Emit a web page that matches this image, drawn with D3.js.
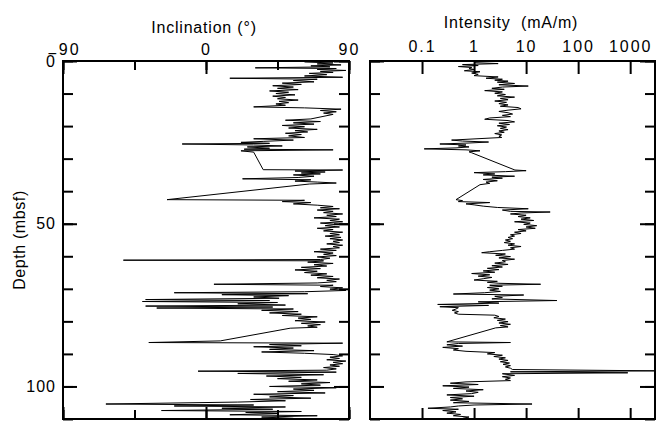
<!DOCTYPE html>
<html>
<head>
<meta charset="utf-8">
<script src="https://cdn.jsdelivr.net/npm/d3@7"></script>
<style>
body { margin: 0; background: #fff; }
text { font-family: "Liberation Sans", Arial, sans-serif; fill: #000; }
</style>
</head>
<body>
<div id="chart"></div>
<script>
// depth (mbsf), inclination (deg)
var incData = [
	[0.3,62],[0.6,80],[0.9,70],[1.2,85],[1.5,66],[1.8,78],[2.1,31],[2.3,82],[2.6,70],[2.9,88],[3.2,72],[3.5,80],
	[3.8,65],[4.2,76],[4.6,62],[5.0,86],[5.3,15],[5.6,70],[6.0,55],[6.4,68],[6.8,48],[7.2,60],[7.6,42],[8.0,55],
	[8.4,45],[8.8,58],[9.2,40],[9.6,52],[10.0,44],[10.4,56],[10.8,42],[11.2,50],[11.6,45],[12.0,58],[12.4,46],
	[12.8,52],[13.2,44],[13.6,50],[14.1,30],[14.4,62],[14.8,85],[15.2,72],[15.6,82],[16.0,74],[16.4,80],
	[17.8,66],[18.2,50],[18.6,72],[19.0,55],[19.4,68],[19.8,48],[20.2,62],[20.6,52],[21.0,70],[21.4,56],
	[21.8,64],[22.2,50],[22.6,60],[23.0,52],[23.5,62],[23.9,30],[24.3,55],[24.7,36],[25.0,22],[25.3,40],
	[25.5,-15],[25.8,30],[26.1,48],[26.4,26],[26.8,40],[27.1,24],[27.3,80],[27.6,22],[28.0,30],[33.4,36],
	[33.5,86],[33.8,56],[34.1,75],[34.4,60],[34.7,72],[35.0,55],[35.4,68],[35.8,58],[36.2,23],[36.5,66],
	[36.9,56],[37.2,70],[37.5,82],[37.8,65],[42.6,-24.5],[42.8,62],[43.2,48],[43.5,66],[43.9,55],[44.3,70],
	[44.7,80],[45.1,72],[45.4,84],[45.8,70],[46.2,80],[46.6,74],[47.0,86],[47.4,76],[47.8,82],[48.2,68],
	[48.6,84],[49.0,78],[49.4,86],[49.8,72],[50.2,82],[50.6,75],[51.0,84],[51.4,70],[51.8,80],[52.2,74],
	[52.6,86],[53.0,78],[53.4,84],[53.8,75],[54.2,85],[54.6,78],[55.0,86],[55.4,80],[55.8,84],[56.2,76],
	[56.6,86],[57.0,80],[57.4,84],[57.8,72],[58.2,82],[58.6,68],[59.0,80],[59.4,74],[59.8,82],[60.2,70],
	[60.6,78],[61.0,72],[61.2,-52],[61.4,74],[61.8,64],[62.2,80],[62.6,68],[63.0,76],[63.4,60],[63.8,72],
	[64.2,56],[64.6,70],[65.0,62],[65.4,76],[65.8,66],[66.2,80],[66.6,70],[67.0,84],[67.4,76],[67.8,82],
	[68.2,70],[68.6,5],[68.9,80],[69.3,72],[69.7,86],[70.1,78],[70.5,88],[70.9,62],[71.2,-20],[71.5,64],
	[71.8,10],[72.1,52],[72.5,30],[72.9,46],[73.3,-38],[73.6,40],[73.9,-40],[74.2,45],[74.6,20],[75.0,50],
	[75.3,-38],[75.6,42],[75.9,-31],[76.2,55],[76.6,35],[77.0,58],[77.4,40],[77.8,60],[78.2,48],[78.6,70],
	[79.0,58],[79.4,66],[79.8,56],[80.2,75],[80.6,60],[81.0,72],[81.4,64],[81.8,70],[82.1,53],[86.0,9],
	[86.5,-36],[86.7,86],[87.1,40],[87.5,60],[87.8,30],[88.2,55],[88.6,40],[89.0,68],[89.4,35],[89.8,62],
	[90.2,80],[90.6,86],[91.0,78],[91.4,84],[91.8,76],[92.2,88],[92.6,80],[93.0,86],[93.4,78],[93.8,84],
	[94.2,74],[94.6,82],[95.0,76],[95.3,-5],[95.6,82],[96.0,20],[96.4,74],[96.8,38],[97.2,60],[97.6,45],
	[98.0,70],[98.4,52],[98.8,78],[99.2,60],[99.6,72],[100.0,40],[100.4,82],[100.8,55],[101.2,68],[101.6,45],
	[102.0,75],[102.4,30],[102.8,55],[103.2,40],[103.6,66],[104.0,28],[104.4,50],[104.8,20],[105.4,-63],
	[105.7,30],[106.0,-20],[106.3,50],[106.7,10],[107.0,42],[107.4,-28],[107.7,60],[108.0,25],[108.3,45],
	[108.7,15],[109.0,70],[109.4,35],[109.8,55]
];

// depth (mbsf), intensity (mA/m)
var intData = [
	[0.5,1.0],[0.8,2.9],[1.1,0.6],[1.4,1.2],[1.7,0.5],[2.0,0.9],[2.3,0.8],[2.6,1.0],[3.0,0.65],[3.3,1.3],
	[3.7,0.9],[4.1,1.2],[4.5,1.0],[4.9,2.9],[5.3,1.7],[5.6,3.5],[5.9,2.5],[6.2,4.5],[6.5,2.8],[6.9,6],
	[7.3,3.0],[7.7,11],[8.0,3.5],[8.4,2.2],[8.7,3.8],[9.1,1.6],[9.5,3.5],[9.9,2.5],[10.3,4.0],[10.7,2.8],
	[11.1,6],[11.5,3.2],[11.9,4.5],[12.3,2.5],[12.7,4.2],[13.1,3.0],[13.5,4.5],[13.9,3.2],[14.3,7],[14.7,8],
	[15.1,4.5],[15.5,3.0],[15.9,4.5],[16.3,5.5],[16.7,3.5],[17.1,5],[17.5,2.0],[17.9,1.6],[18.3,4.5],[18.7,6],
	[19.1,3],[19.5,4.8],[19.9,2.8],[20.3,4.2],[20.7,3.2],[21.1,4.5],[21.5,3.0],[21.9,3.8],[22.3,2.5],[22.7,3.4],
	[23.1,3.0],[23.5,3.4],[24.3,0.37],[24.6,0.6],[24.9,1.9],[25.2,0.8],[25.5,0.22],[25.8,0.7],[26.1,0.5],
	[26.4,0.8],[26.7,0.45],[27.0,0.11],[27.3,0.7],[27.6,1.3],[27.9,0.8],[28.2,0.9],[33.5,6.1],[33.7,10],
	[34.0,4],[34.3,1.0],[34.7,2.5],[35.0,1.5],[35.4,6],[35.7,2.2],[36.0,3.5],[36.4,1.5],[36.8,2.8],[37.2,1.7],
	[37.6,2.0],[38.0,1.3],[42.6,0.45],[42.9,0.6],[43.2,0.5],[43.5,2.0],[43.9,0.7],[44.2,1.0],[44.6,1.5],
	[45.0,2.8],[45.4,11],[45.8,3.5],[46.2,5],[46.4,29],[46.7,8],[47.0,5],[47.4,10],[47.8,7],[48.2,12],
	[48.6,8],[49.0,14],[49.4,6],[49.8,12],[50.2,9],[50.6,16],[51.0,10],[51.4,15],[51.8,7],[52.2,10],[52.6,6],
	[53.0,8],[53.4,5],[53.8,6],[54.2,4.5],[54.6,5.5],[55.0,4.0],[55.4,5.0],[55.8,3.8],[56.2,6],[56.6,4.5],
	[57.0,8],[57.4,5],[57.8,6],[58.2,3.5],[58.6,2],[58.9,1.4],[59.3,4],[59.7,2.6],[60.1,5],[60.5,3],[60.9,6],
	[61.3,3.5],[61.7,4],[62.1,2.5],[62.5,4.5],[62.9,2.2],[63.3,3.5],[63.7,1.8],[64.1,3.0],[64.5,1.5],
	[64.9,2.5],[65.3,0.9],[65.7,2.0],[66.1,1.2],[66.5,2.2],[66.9,1.5],[67.3,1.0],[67.7,2.8],[68.0,1.8],
	[68.3,3.0],[68.6,19],[68.9,2.0],[69.2,3.5],[69.6,1.8],[70.0,3.0],[70.4,2.0],[70.8,3.2],[71.2,1.6],
	[71.6,0.4],[71.9,9],[72.3,2.5],[72.7,3.5],[73.1,2.2],[73.6,39],[74.0,1.2],[74.4,3.0],[74.8,0.2],[75.1,1.9],
	[75.5,0.22],[75.8,0.5],[76.2,0.45],[76.6,0.38],[77.0,0.5],[77.4,0.42],[77.8,0.5],[78.1,2.5],[78.5,3.0],
	[78.9,2.4],[79.3,4.0],[79.7,2.8],[80.1,4.5],[80.5,3.0],[80.9,5],[81.3,3.2],[81.7,4.5],[82.0,2.6],
	[86.3,0.3],[86.5,5],[86.8,0.5],[87.2,0.3],[87.6,0.6],[88.0,0.25],[88.4,0.5],[88.8,0.4],[89.2,0.7],
	[89.6,2.5],[90.0,1.8],[90.4,3.5],[90.8,2.4],[91.2,4],[91.6,3],[92.0,4.5],[92.4,3.2],[92.8,4.8],[93.2,3.6],
	[93.6,5],[94.0,4],[94.4,5],[94.8,5.5],[95.2,3000],[95.5,5],[95.8,900],[96.1,3.5],[96.6,6],[97.0,3.5],
	[97.4,5],[97.8,4],[98.2,5],[98.6,0.7],[99.0,0.35],[99.4,1.2],[99.8,0.25],[100.2,0.8],[100.6,0.4],
	[101.0,1.5],[101.4,0.7],[101.8,1.2],[102.2,0.9],[102.6,0.3],[103.0,1.0],[103.4,0.35],[103.8,0.6],
	[104.2,0.35],[104.6,0.8],[105.0,0.4],[105.4,13],[105.7,1.0],[106.0,0.5],[106.3,0.35],[106.7,0.13],
	[107.0,0.5],[107.4,0.25],[107.8,0.45],[108.2,0.3],[108.6,0.55],[109.0,0.4],[109.4,0.8],[109.8,0.6]
];

var depthTicks = [0,10,20,30,40,50,60,70,80,90,100,110],
	depthLabels = [0,50,100],
	incTicks = [-90,-45,0,45,90],
	incLabels = [-90,0,90],
	intTicks = [0.1,1,10,100,1000];

var width = 657,
	height = 421,
	frameTop = 61,
	frameBottom = 419;

var svg = d3.select("#chart")
	.append("svg")
	.attr("width", width)
	.attr("height", height);

var y = d3.scaleLinear().domain([0,110]).range([frameTop,frameBottom]);
var xInc = d3.scaleLinear().domain([-90,90]).range([63,349]);
var xInt = d3.scaleLog().domain([0.01,3000]).range([370,655]);

function styleAxis(g){
	g.select(".domain").remove();
	g.selectAll("line").attr("stroke","#000").attr("stroke-width",2);
	g.selectAll("text")
		.style("font-size","16px")
		.style("letter-spacing","2px");
	g.attr("font-family",null).attr("font-size",null);
}

function panel(x, data, clipId){
	var x0 = x.range()[0], x1 = x.range()[1];

	// depth ticks, both sides, pointing inward
	svg.append("g").attr("transform","translate("+x0+",0)")
		.call(d3.axisLeft(y).tickValues(depthTicks).tickSize(-10).tickFormat(""))
		.call(styleAxis);
	svg.append("g").attr("transform","translate("+x1+",0)")
		.call(d3.axisRight(y).tickValues(depthTicks).tickSize(-10).tickFormat(""))
		.call(styleAxis);
	svg.append("g").attr("transform","translate("+x0+",0)")
		.call(d3.axisLeft(y).tickValues(depthLabels).tickSize(-14).tickFormat(""))
		.call(styleAxis);
	svg.append("g").attr("transform","translate("+x1+",0)")
		.call(d3.axisRight(y).tickValues(depthLabels).tickSize(-15).tickFormat(""))
		.call(styleAxis);

	svg.append("clipPath").attr("id",clipId)
		.append("rect")
		.attr("x",x0).attr("y",frameTop)
		.attr("width",x1-x0).attr("height",frameBottom-frameTop);

	var line = d3.line()
		.x(function(d){ return x(d[1]); })
		.y(function(d){ return y(d[0]); });

	svg.append("path")
		.datum(data)
		.attr("clip-path","url(#"+clipId+")")
		.attr("fill","none")
		.attr("stroke","#000")
		.attr("stroke-width",1)
		.attr("d",line);

	svg.append("rect")
		.attr("x",x0).attr("y",frameTop)
		.attr("width",x1-x0).attr("height",frameBottom-frameTop)
		.attr("fill","none")
		.attr("stroke","#000")
		.attr("stroke-width",2);
}

panel(xInc, incData, "clipInc");
panel(xInt, intData, "clipInt");

// depth labels
svg.append("g").attr("transform","translate(63,0)")
	.call(d3.axisLeft(y).tickValues(depthLabels).tickSize(0).tickPadding(7))
	.call(styleAxis)
	.selectAll("text").style("letter-spacing","1px");

// inclination top / bottom ticks
svg.append("g").attr("transform","translate(0,"+frameTop+")")
	.call(d3.axisTop(xInc).tickValues(incTicks).tickSize(-9).tickFormat(""))
	.call(styleAxis);
svg.append("g").attr("transform","translate(0,"+frameBottom+")")
	.call(d3.axisBottom(xInc).tickValues(incTicks).tickSize(-9).tickFormat(""))
	.call(styleAxis);
svg.append("g").attr("transform","translate(0,"+frameTop+")")
	.call(d3.axisTop(xInc).tickValues(incLabels).tickSize(-13).tickPadding(6)
		.tickFormat(function(d){ return d < 0 ? "" : d; }))
	.call(styleAxis);
svg.append("g").attr("transform","translate(0,"+frameBottom+")")
	.call(d3.axisBottom(xInc).tickValues(incLabels).tickSize(-12).tickFormat(""))
	.call(styleAxis);

// the -90 label, minus sitting low as in the original
var neg = svg.append("text")
	.attr("x", xInc(-90)+1)
	.attr("y", frameTop-6)
	.attr("text-anchor","middle")
	.style("font-size","16px")
	.style("letter-spacing","2px");
neg.append("tspan").attr("dy",4).text("\u2212");
neg.append("tspan").attr("dy",-4).text("90");

// intensity top / bottom ticks
svg.append("g").attr("transform","translate(0,"+frameTop+")")
	.call(d3.axisTop(xInt).tickValues(intTicks).tickSize(-13).tickPadding(9)
		.tickFormat(function(d){ return String(d); }))
	.call(styleAxis);
svg.append("g").attr("transform","translate(0,"+frameBottom+")")
	.call(d3.axisBottom(xInt).tickValues(intTicks).tickSize(-11).tickFormat(""))
	.call(styleAxis);

// titles
svg.append("text")
	.attr("x",204).attr("y",33)
	.attr("text-anchor","middle")
	.style("font-size","16px")
	.style("letter-spacing","0.8px")
	.text("Inclination (\u00b0)");

svg.append("text")
	.attr("x",511).attr("y",27.5)
	.attr("text-anchor","middle")
	.style("font-size","16px")
	.style("letter-spacing","0.8px")
	.style("white-space","pre")
	.text("Intensity  (mA/m)");

svg.append("text")
	.attr("transform","translate(25,240) rotate(-90)")
	.attr("text-anchor","middle")
	.style("font-size","16px")
	.style("letter-spacing","0.6px")
	.text("Depth (mbsf)");
</script>
</body>
</html>
